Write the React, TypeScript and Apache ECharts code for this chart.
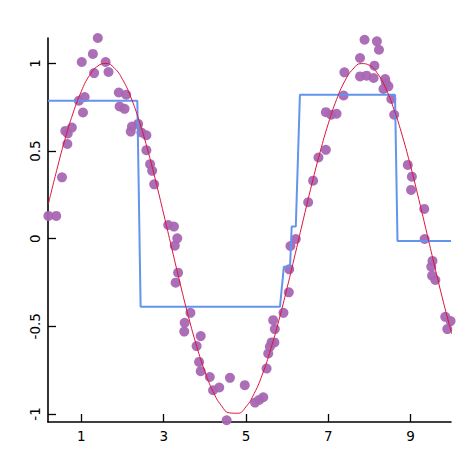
import React, { useEffect, useRef } from "react";
import * as echarts from "echarts";

const scatterX = [
  0.2, 0.39, 0.53, 0.66, 0.61, 0.67, 0.77, 0.94, 1.04, 1.08, 1.01, 1.28, 1.31, 1.4, 1.59, 1.66,
  1.91, 2.09, 1.93, 2.05, 2.2, 2.23, 2.38, 2.46, 2.58, 2.58, 2.67, 2.72, 2.77, 3.11, 3.25, 3.33,
  3.27, 3.35, 3.29, 3.51, 3.5, 3.65, 3.9, 3.8, 3.86, 3.9, 4.12, 4.2, 4.35, 4.61, 4.53, 4.97,
  5.22, 5.32, 5.42, 5.5, 5.54, 5.58, 5.62, 5.69, 5.7, 5.66, 5.91, 6.04, 6.05, 6.08, 6.21, 6.51,
  6.63, 6.76, 6.94, 6.94, 7.07, 7.2, 7.37, 7.39, 7.77, 7.88, 8.18, 8.23, 7.77, 7.93, 8.1, 8.12,
  8.38, 8.46, 8.4, 8.34, 8.53, 8.6, 8.93, 9.03, 9.01, 9.33, 9.34, 9.53, 9.5, 9.52, 9.6, 9.84,
  9.89, 9.97,
];
const scatterY = [
  0.13, 0.13, 0.35, 0.54, 0.615, 0.6, 0.634, 0.787, 0.72, 0.808, 1.008, 1.054, 0.945, 1.145, 1.008, 0.951,
  0.834, 0.821, 0.754, 0.741, 0.611, 0.64, 0.655, 0.606, 0.59, 0.505, 0.425, 0.387, 0.31, 0.078, 0.069, 0.002,
  -0.04, -0.194, -0.251, -0.48, -0.53, -0.423, -0.556, -0.613, -0.703, -0.756, -0.789, -0.865, -0.849, -0.794, -1.036, -0.836,
  -0.935, -0.92, -0.905, -0.741, -0.655, -0.617, -0.592, -0.592, -0.516, -0.465, -0.423, -0.306, -0.175, -0.042, -0.002, 0.208,
  0.331, 0.463, 0.507, 0.722, 0.707, 0.713, 0.817, 0.949, 1.031, 1.135, 1.126, 1.078, 0.926, 0.93, 0.917, 0.987,
  0.911, 0.869, 0.888, 0.854, 0.797, 0.707, 0.421, 0.354, 0.278, 0.17, -0.002, -0.127, -0.16, -0.211, -0.236, -0.446,
  -0.516, -0.47,
];

const curveX = [
  0.2, 0.4, 0.6, 0.8, 1.0, 1.2, 1.4, 1.6, 1.8, 2.0, 2.2, 2.4, 2.6, 2.8, 3.0, 3.2, 3.4, 3.6, 3.8, 4.0,
  4.2, 4.4, 4.6, 4.8, 5.0, 5.2, 5.4, 5.6, 5.8, 6.0, 6.2, 6.4, 6.6, 6.8, 7.0, 7.2, 7.4, 7.6, 7.8, 8.0,
  8.2, 8.4, 8.6, 8.8, 9.0, 9.2, 9.4, 9.6, 9.8, 10.0,
];
const curveY = [
  0.199, 0.389, 0.565, 0.717, 0.841, 0.932, 0.985, 1.0, 0.974, 0.909, 0.808, 0.675, 0.516, 0.335, 0.141, -0.058,
  -0.256, -0.443, -0.612, -0.757, -0.872, -0.952, -0.994, -0.996, -0.959, -0.883, -0.773, -0.631, -0.465, -0.279,
  -0.083, 0.117, 0.312, 0.494, 0.657, 0.794, 0.899, 0.968, 0.999, 0.989, 0.941, 0.855, 0.734, 0.585, 0.412, 0.223,
  0.025, -0.174, -0.366, -0.544,
];

const stepX = [0.19, 2.36, 2.44, 5.825, 5.92, 6.07, 6.11, 6.21, 6.31, 8.62, 8.68, 9.98];
const stepY = [0.787, 0.787, -0.389, -0.389, -0.16, -0.16, 0.069, 0.069, 0.821, 0.821, -0.013, -0.013];

const xTicks = [1, 3, 5, 7, 9];
const yTicks = [-1, -0.5, 0, 0.5, 1];

export default function App() {
  const ref = useRef<HTMLDivElement>(null);
  useEffect(() => {
    if (!ref.current) return;
    const chart = echarts.init(ref.current, null, { renderer: "svg" });
    const axisCommon = {
      type: "value" as const,
      splitLine: { show: false },
      axisLine: { show: true, onZero: false, lineStyle: { color: "#000", width: 1.6 } },
      axisTick: { show: true, inside: true, length: 8, lineStyle: { color: "#000", width: 1.3 } },
    };
    chart.setOption({
      animation: false,
      backgroundColor: "#fff",
      grid: { left: 48, right: 19, top: 38, bottom: 48, containLabel: false },
      xAxis: {
        ...axisCommon,
        min: 0.19,
        max: 9.98,
        axisTick: { ...axisCommon.axisTick, customValues: xTicks },
        axisLabel: {
          customValues: xTicks,
          color: "#000",
          fontSize: 13.5,
          fontFamily: "DejaVu Sans",
          margin: 7,
        },
      },
      yAxis: {
        ...axisCommon,
        min: -1.046,
        max: 1.145,
        axisTick: { ...axisCommon.axisTick, customValues: yTicks },
        axisLabel: {
          customValues: yTicks,
          rotate: 90,
          color: "#000",
          fontSize: 13.5,
          fontFamily: "DejaVu Sans",
          margin: 6,
        },
      },
      series: [
        {
          type: "scatter",
          data: scatterX.map((x, i) => [x, scatterY[i]]),
          symbolSize: 10,
          itemStyle: { color: "rgb(168,102,178)", opacity: 0.95 },
          z: 1,
        },
        {
          type: "line",
          data: stepX.map((x, i) => [x, stepY[i]]),
          showSymbol: false,
          lineStyle: { color: "#6495ED", width: 2 },
          z: 2,
        },
        {
          type: "line",
          data: curveX.map((x, i) => [x, curveY[i]]),
          smooth: true,
          showSymbol: false,
          lineStyle: { color: "#DC143C", width: 1 },
          z: 3,
        },
      ],
    });
    return () => chart.dispose();
  }, []);
  return (
    <div
      ref={ref}
      style={{ position: "fixed", left: 0, top: 0, width: 470, height: 470 }}
    />
  );
}
